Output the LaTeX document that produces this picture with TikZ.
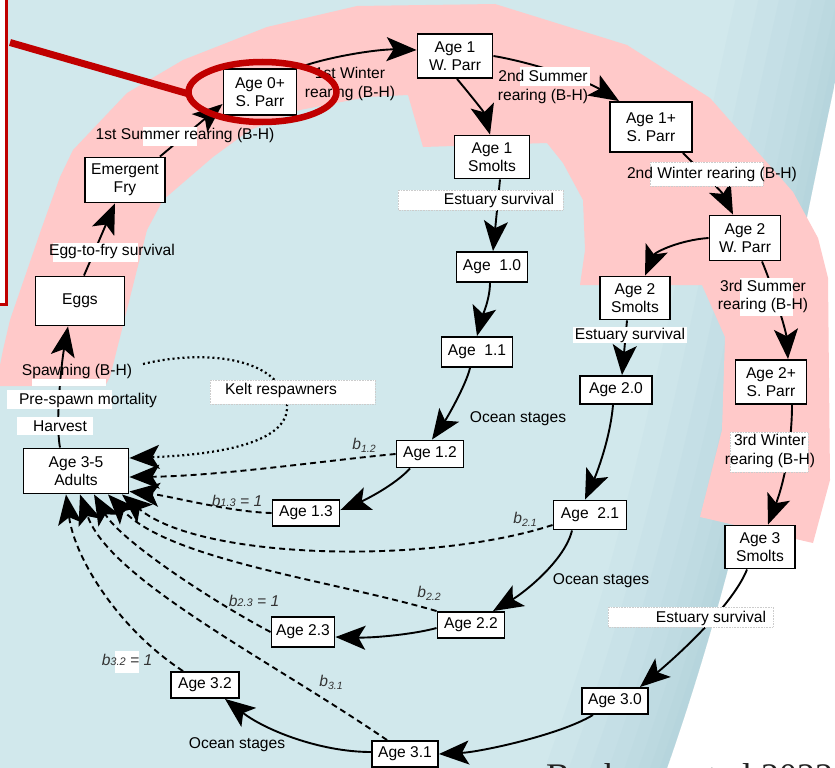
\documentclass[tikz,border=0pt]{standalone}
\usepackage{fontspec}
\usetikzlibrary{arrows.meta,calc}
\newfontfamily\stagesans{Liberation Sans}
\newfontfamily\citeserif{Liberation Serif}
\newcommand\stagefont{\stagesans\fontsize{15.6}{18.4}\selectfont}
\newcommand\bsub[1]{\textit{b}\raisebox{-3pt}{\fontsize{10.5}{10.5}\selectfont\itshape #1}}
\newcommand\bflat[1]{\textit{b}{\fontsize{11}{11}\selectfont\itshape #1}}
\definecolor{seablue}{HTML}{D1E8EC}
\definecolor{shoredark}{HTML}{9CC5D1}
\definecolor{rearpink}{HTML}{FFC9C9}
\definecolor{markred}{HTML}{C00000}
\definecolor{subgray}{HTML}{333333}
\definecolor{citegray}{HTML}{222222}
\tikzset{
  bighead/.tip={Stealth[length=30pt,width=24pt,inset=7pt]},
  stagebox/.style={draw=black, line width=1.9pt, fill=white, font=\stagefont, align=center, inner sep=0pt},
  flow/.style={line width=1.9pt, arrows={-bighead}},
  back/.style={flow, dash pattern=on 6pt off 4pt},
  kelt/.style={flow, line width=2.2pt, dash pattern=on 2pt off 3pt},
  lab/.style={font=\stagefont, inner sep=0pt, align=center},
  blab/.style={font=\stagefont, text=subgray, inner sep=0pt},
  tagbg/.style={fill=white},
  tagframe/.style={fill=white, draw=white!80!black, densely dotted, line width=0.6pt},
  redmark/.style={draw=markred},
}
\begin{document}
\begin{tikzpicture}[x=1pt,y=-1pt]
\useasboundingbox (0,0) rectangle (835,768);
% paper and sea
\fill[white] (0,0) rectangle (835,768);
\fill[seablue] (-5,-5) -- (880,-5) -- (842,50) .. controls (787,300) and (754.5,518) .. (667,768) -- (660,780) -- (-5,780) -- cycle;
\begin{scope}
  \clip (-5,-5) -- (880,-5) -- (842,50) .. controls (787,300) and (754.5,518) .. (667,768) -- (660,780) -- (-5,780) -- cycle;
  \foreach \w in {230,185,145,110,80,54,32,14}
    \draw[shoredark, line width=\w pt, opacity=0.07] (882,-130) -- (842,50) .. controls (787,300) and (754.5,518) .. (667,768) -- (632,868);
\end{scope}
\fill[white] (-2,-2) rectangle (6.7,304.5);
% freshwater rearing band
\fill[rearpink] (0,386) -- (0,365) -- (3,350) -- (10,320) -- (41,230) -- (60,177) -- (73,150) -- (127,93) -- (183,60) -- (267,27) -- (357,6) -- (495,4) -- (627,45) -- (710,98) -- (793,192) -- (818,238) -- (828,278) -- (830,480) -- (813,543) -- (700,517) -- (722,430) -- (725,337) -- (702,285) -- (580,285) -- (585,250) -- (583,200) -- (563,163) -- (547,143) -- (423,147) -- (408,95) -- (367,97) -- (300,110) -- (250,130) -- (213,157) -- (163,200) -- (147,230) -- (110,377) -- (105,386) -- cycle;

% stages
\node[stagebox, minimum width=73pt, minimum height=46pt] (parr0) at (260,92) {Age 0+\\S. Parr};
\node[stagebox, minimum width=75pt, minimum height=44pt] (wparr1) at (455,56) {Age 1\\W. Parr};
\node[stagebox, minimum width=75pt, minimum height=43pt] (smolt1) at (492,157) {Age 1\\Smolts};
\node[stagebox, minimum width=82pt, minimum height=50pt] (sparr1) at (651,127) {Age 1+\\S. Parr};
\node[stagebox, minimum width=71pt, minimum height=45pt] (wparr2) at (745,238) {Age 2\\W. Parr};
\node[stagebox, minimum width=70pt, minimum height=43pt] (smolt2) at (635,298) {Age 2\\Smolts};
\node[stagebox, minimum width=71pt, minimum height=44pt] (sparr2) at (771,382) {Age 2+\\S. Parr};
\node[stagebox, minimum width=70pt, minimum height=43pt] (smolt3) at (760,547) {Age 3\\Smolts};
\node[stagebox, minimum width=71pt, minimum height=30pt] (o10) at (492,267) {Age\ \ 1.0};
\node[stagebox, minimum width=71pt, minimum height=30pt] (o11) at (477,352) {Age\ \ 1.1};
\node[stagebox, minimum width=67pt, minimum height=27pt] (o12) at (430,454) {Age 1.2};
\node[stagebox, minimum width=67pt, minimum height=26pt] (o13) at (306,513) {Age 1.3};
\node[stagebox, minimum width=72pt, minimum height=28pt] (o20) at (616,390) {Age 2.0};
\node[stagebox, minimum width=73pt, minimum height=29pt] (o21) at (590,515) {Age\ \ 2.1};
\node[stagebox, minimum width=67pt, minimum height=26pt] (o22) at (471,625) {Age 2.2};
\node[stagebox, minimum width=63pt, minimum height=30pt] (o23) at (303,632) {Age 2.3};
\node[stagebox, minimum width=66pt, minimum height=26pt] (o30) at (615,701) {Age 3.0};
\node[stagebox, minimum width=66pt, minimum height=26pt] (o31) at (405,754) {Age 3.1};
\node[stagebox, minimum width=68pt, minimum height=26pt] (o32) at (205,685) {Age 3.2};
\node[stagebox, minimum width=105pt, minimum height=45pt] (adults) at (76,471) {Age 3-5\\Adults};
\node[stagebox, minimum width=89pt, minimum height=49pt] (eggs) at (80,301) {Eggs};
\node[stagebox, minimum width=80pt, minimum height=45pt] (fry) at (125,180) {Emergent\\Fry};

% transitions
\draw[flow] ($(eggs.north)+(4,0)$) -- ($(fry.south)+(-10,0)$);
\draw[flow] ($(fry.north east)+(-6,0)$) -- ($(parr0.west)+(0,12)$);
\draw[flow] (parr0.north east) .. controls (330,56) and (380,49) .. ($(wparr1.west)+(0,-6)$);
\draw[flow] (wparr1.east) .. controls (530,62) and (585,80) .. ($(sparr1.north west)+(10,0)$);
\draw[flow] ($(wparr1.south)+(2,0)$) .. controls (468,92) and (484,112) .. ($(smolt1.north)+(-2,0)$);
\draw[flow] ($(smolt1.south)+(8,0)$) -- ($(o10.north)+(1,0)$);
\draw[flow] ($(sparr1.south east)+(-10,0)$) .. controls (700,170) and (722,192) .. ($(wparr2.north)+(-12,0)$);
\draw[flow] (wparr2.west) .. controls (680,240) and (655,252) .. ($(smolt2.north)+(10,0)$);
\draw[flow] ($(wparr2.south)+(17,0)$) .. controls (772,285) and (786,330) .. ($(sparr2.north)+(17,0)$);
\draw[flow] ($(sparr2.south)+(21,0)$) .. controls (792,440) and (785,480) .. ($(smolt3.north)+(8,0)$);
\draw[flow] ($(o10.south)+(-2,0)$) .. controls (490,300) and (481,320) .. (o11.north);
\draw[flow] ($(o11.south)+(-7,0)$) .. controls (466,385) and (447,418) .. ($(o12.north)+(2,0)$);
\draw[flow] ($(o12.south)+(-20,0)$) .. controls (395,485) and (365,500) .. ($(o13.east)+(0,-3)$);
\draw[flow] ($(smolt2.south)+(-8,0)$) -- ($(o20.north)+(6,0)$);
\draw[flow] ($(o20.south)+(-3,0)$) .. controls (610,440) and (596,475) .. ($(o21.north)+(-5,0)$);
\draw[flow] ($(o21.south)+(-18,0)$) .. controls (565,560) and (525,592) .. ($(o22.north)+(22,0)$);
\draw[flow] ($(o22.west)+(0,3)$) .. controls (415,634) and (375,638) .. ($(o23.east)+(0,5)$);
\draw[flow] ($(smolt3.south)+(-13,0)$) .. controls (735,600) and (690,645) .. ($(o30.north)+(25,0)$);
\draw[flow] ($(o30.south)+(-22,0)$) .. controls (560,735) and (480,752) .. (o31.east);
\draw[flow] ($(o31.west)+(0,-2)$) .. controls (320,752) and (265,730) .. ($(o32.south)+(20,0)$);
\draw[flow] ($(adults.north)+(-16,0)$) .. controls (55,420) and (62,360) .. ($(eggs.south)+(-12,0)$);

% returns to the spawning adults
\coordinate (keltstart) at (143,364);
\draw[kelt] (keltstart) .. controls (200,350) and (280,355) .. (287,405) .. controls (290,445) and (210,455) .. ($(adults.east)+(0,-13)$);
\draw[back] (o12.west) .. controls (330,460) and (220,476) .. ($(adults.east)+(0,6)$);
\draw[back] (o13.west) .. controls (230,512) and (170,496) .. ($(adults.south east)+(0,-3)$);
\draw[back] ($(o21.west)+(0,10)$) .. controls (430,565) and (200,560) .. ($(adults.south)+(46,0)$);
\draw[back] (o22.north west) .. controls (330,580) and (170,560) .. ($(adults.south)+(32,0)$);
\draw[back] (o23.west) .. controls (210,600) and (120,540) .. ($(adults.south)+(18,0)$);
\draw[back] ($(o31.north)+(-18,0)$) .. controls (270,660) and (110,580) .. ($(adults.south)+(4,0)$);
\draw[back] ($(o32.north)+(-22,0)$) .. controls (120,630) and (75,560) .. ($(adults.south)+(-10,0)$);

% label backgrounds
\fill[tagbg] (143,127) rectangle (197,146);
\fill[tagbg] (520,67) rectangle (590,86);
\path[tagframe] (650,162) rectangle (763,186);
\path[tagframe] (398,190) rectangle (563,210);
\fill[tagbg] (53,243) rectangle (138,262);
\fill[tagbg] (32,379) rectangle (106,386);
\fill[tagbg] (7,390) rectangle (112,409);
\fill[tagbg] (17,417) rectangle (93,435);
\path[tagframe] (210,380) rectangle (375,404);
\fill[tagbg] (573,327) rectangle (687,343);
\fill[tagbg] (740,278) rectangle (793,316);
\path[tagframe] (730,432) rectangle (808,472);
\path[tagframe] (608,607) rectangle (773,627);
\fill[tagbg] (115,651) rectangle (139,673);

% labels
\node[lab] (l1) at (185,135.5) {1st Summer rearing (B-H)};
\node[lab] (l2) at (350,84) {1st Winter\\rearing (B-H)};
\node[lab] (l3) at (543,87) {2nd Summer\\rearing (B-H)};
\node[lab] (l4) at (712,174.5) {2nd Winter rearing (B-H)};
\node[lab] (l5) at (499,200) {Estuary survival};
\node[lab] (l6) at (112,251.5) {Egg-to-fry survival};
\node[lab] (l7) at (77,371.5) {Spawning (B-H)};
\node[lab] (l8) at (88,400.5) {Pre-spawn mortality};
\node[lab] (l9) at (60,426.5) {Harvest};
\node[lab] (l10) at (281,390.5) {Kelt respawners};
\node[lab] (l11) at (518,418.5) {Ocean stages};
\node[lab] (l12) at (601,581) {Ocean stages};
\node[lab] (l13) at (237,745) {Ocean stages};
\node[lab] (l14) at (630,335) {Estuary survival};
\node[lab] (l15) at (763,296.5) {3rd Summer\\rearing (B-H)};
\node[lab] (l16) at (770,451) {3rd Winter\\rearing (B-H)};
\node[lab] (l17) at (711,618.5) {Estuary survival};

\node[blab] (b12) at (364,445) {\bsub{1.2}};
\node[blab] (b13) at (237,501) {\bflat{1.3} \textit{= 1}};
\node[blab] (b21) at (525,519) {\bsub{2.1}};
\node[blab] (b22) at (429,593) {\bsub{2.2}};
\node[blab] (b23) at (254,601) {\bflat{2.3} \textit{= 1}};
\node[blab] (b31) at (331,682) {\bsub{3.1}};
\node[blab] (b32) at (127,660) {\bflat{3.2} \textit{= 1}};

% red highlight
\draw[redmark, line width=3.3pt] (6.7,-5) -- (6.7,304.5) -- (-5,304.5);
\draw[redmark, line width=7pt] (10,42.5) -- (189,94);
\draw[redmark, line width=6.5pt] (262.5,92) ellipse [x radius=74, y radius=30];

% citation along the lower edge
\begin{scope}
  \clip (0,0) rectangle (835,768);
  \node[anchor=base west, font=\citeserif\fontsize{36}{36}\selectfont, text=citegray, inner sep=0pt] (cite) at (546,788) {Buehrens et al 2022};
\end{scope}
\end{tikzpicture}
\end{document}
